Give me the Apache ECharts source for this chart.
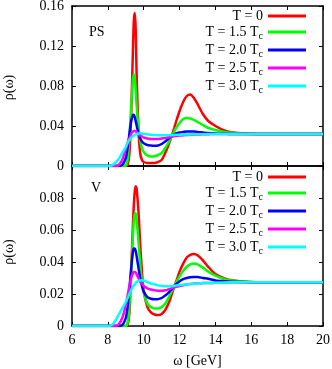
<!DOCTYPE html>
<html><head><meta charset="utf-8">
<script src="https://cdn.jsdelivr.net/npm/echarts@6/dist/echarts.min.js"></script>
<style>html,body{margin:0;padding:0;background:#fff}#c{width:332px;height:369px}</style>
</head><body><div id="c"></div>
<script>
// omega grid [GeV]
const omega = [6, 7, 8, 8.2, 8.4, 8.6, 8.8, 9.0, 9.1, 9.2, 9.3, 9.4, 9.45, 9.5, 9.55, 9.6, 9.7, 9.8, 9.9, 10.0,
  10.2, 10.4, 10.6, 10.8, 11.0, 11.2, 11.4, 11.6, 11.8, 12.0, 12.2, 12.4, 12.6, 12.8, 13.0, 13.3, 13.6, 14.0, 14.5, 15, 16, 17, 18, 19, 20];

// PS channel
const psT0  = [0, 0, 0, 0, 0, 0, 0, 0, 0.001, 0.012, 0.05, 0.118, 0.146, 0.153, 0.138, 0.095, 0.038, 0.013, 0.006, 0.004,
  0.003, 0.003, 0.003, 0.004, 0.006, 0.013, 0.022, 0.032, 0.044, 0.055, 0.064, 0.070, 0.0715, 0.068, 0.062, 0.052, 0.045, 0.040, 0.0355, 0.0335, 0.0322, 0.032, 0.032, 0.032, 0.032];
const psT15 = [0, 0, 0, 0, 0, 0, 0, 0.0005, 0.006, 0.028, 0.06, 0.087, 0.0915, 0.088, 0.077, 0.062, 0.04, 0.026, 0.018, 0.014,
  0.0105, 0.0095, 0.0097, 0.011, 0.013, 0.018, 0.024, 0.031, 0.038, 0.043, 0.047, 0.048, 0.0475, 0.046, 0.044, 0.041, 0.038, 0.036, 0.034, 0.033, 0.032, 0.032, 0.032, 0.032, 0.032];
const psT20 = [0, 0, 0, 0, 0, 0, 0.001, 0.008, 0.018, 0.032, 0.045, 0.051, 0.0512, 0.049, 0.045, 0.041, 0.033, 0.028, 0.0245, 0.0228,
  0.021, 0.0205, 0.0203, 0.0205, 0.022, 0.0245, 0.0275, 0.0305, 0.0325, 0.0335, 0.034, 0.0345, 0.0345, 0.0345, 0.034, 0.0335, 0.033, 0.0325, 0.0322, 0.032, 0.032, 0.032, 0.032, 0.032, 0.032];
const psT25 = [0, 0, 0, 0, 0, 0.001, 0.006, 0.017, 0.023, 0.028, 0.032, 0.0345, 0.035, 0.035, 0.0345, 0.034, 0.032, 0.0305, 0.0295, 0.0285,
  0.0275, 0.027, 0.027, 0.027, 0.0275, 0.028, 0.0287, 0.0295, 0.030, 0.0305, 0.0308, 0.031, 0.0312, 0.0314, 0.0315, 0.0317, 0.0318, 0.032, 0.032, 0.032, 0.032, 0.032, 0.032, 0.032, 0.032];
const psT30 = [0, 0, 0, 0.0005, 0.003, 0.007, 0.013, 0.019, 0.023, 0.026, 0.0285, 0.030, 0.0305, 0.031, 0.0315, 0.032, 0.0325, 0.0327, 0.0325, 0.0322,
  0.0317, 0.0312, 0.031, 0.0308, 0.0307, 0.0307, 0.0308, 0.031, 0.0312, 0.0313, 0.0314, 0.0315, 0.0316, 0.0317, 0.0317, 0.0318, 0.0319, 0.032, 0.032, 0.032, 0.032, 0.032, 0.032, 0.032, 0.032];

// V channel
const vT0  = [0, 0, 0, 0, 0, 0, 0, 0, 0.0005, 0.008, 0.034, 0.064, 0.076, 0.084, 0.0874, 0.086, 0.073, 0.052, 0.034, 0.022,
  0.012, 0.0085, 0.0072, 0.0068, 0.0075, 0.010, 0.0145, 0.021, 0.0275, 0.034, 0.039, 0.0428, 0.0445, 0.045, 0.0442, 0.041, 0.037, 0.0325, 0.0298, 0.0285, 0.0275, 0.0273, 0.0273, 0.0273, 0.0273];
const vT15 = [0, 0, 0, 0, 0, 0, 0, 0, 0.002, 0.012, 0.033, 0.057, 0.066, 0.0705, 0.0705, 0.067, 0.054, 0.039, 0.028, 0.021,
  0.014, 0.0118, 0.011, 0.011, 0.0118, 0.014, 0.018, 0.0225, 0.027, 0.031, 0.0345, 0.037, 0.0385, 0.039, 0.0385, 0.0365, 0.034, 0.0315, 0.0293, 0.0283, 0.0275, 0.0273, 0.0273, 0.0273, 0.0273];
const vT20 = [0, 0, 0, 0, 0, 0, 0.0005, 0.005, 0.012, 0.023, 0.036, 0.0465, 0.0485, 0.0485, 0.047, 0.044, 0.037, 0.030, 0.025, 0.0215,
  0.018, 0.017, 0.0167, 0.0168, 0.0175, 0.019, 0.021, 0.0235, 0.026, 0.028, 0.0293, 0.030, 0.0305, 0.0306, 0.0306, 0.030, 0.0295, 0.0285, 0.028, 0.0276, 0.0274, 0.0273, 0.0273, 0.0273, 0.0273];
const vT25 = [0, 0, 0, 0, 0, 0.001, 0.005, 0.013, 0.019, 0.025, 0.030, 0.0332, 0.0337, 0.0337, 0.0333, 0.0325, 0.030, 0.0278, 0.0262, 0.025,
  0.0235, 0.0228, 0.0223, 0.0221, 0.022, 0.0223, 0.023, 0.0238, 0.0245, 0.025, 0.0255, 0.026, 0.0263, 0.0265, 0.0267, 0.0268, 0.0269, 0.027, 0.0272, 0.0273, 0.0273, 0.0273, 0.0273, 0.0273, 0.0273];
const vT30 = [0, 0, 0, 0.0005, 0.003, 0.007, 0.011, 0.015, 0.0175, 0.020, 0.0225, 0.0245, 0.0255, 0.026, 0.027, 0.0275, 0.0282, 0.0285, 0.0286, 0.0284,
  0.0275, 0.0266, 0.026, 0.0254, 0.025, 0.0248, 0.0248, 0.025, 0.0253, 0.0256, 0.0258, 0.026, 0.0262, 0.0264, 0.0266, 0.0268, 0.0269, 0.027, 0.0272, 0.0273, 0.0273, 0.0273, 0.0273, 0.0273, 0.0273];

const names = ['T = 0', 'T = 1.5 Tc', 'T = 2.0 Tc', 'T = 2.5 Tc', 'T = 3.0 Tc'];
const colors = ['#ff0000', '#00ff00', '#0000ff', '#ff00ff', '#00ffff'];
const psSeries = [psT0, psT15, psT20, psT25, psT30];
const vSeries = [vT0, vT15, vT20, vT25, vT30];
const xTicks = [6, 8, 10, 12, 14, 16, 18, 20];
const psTicks = [0, 0.04, 0.08, 0.12, 0.16];
const vTicks = [0, 0.02, 0.04, 0.06, 0.08, 0.1];

const FONT = 'Liberation Serif';
const pair = arr => arr.map((v, i) => [omega[i], v]);

const chart = echarts.init(document.getElementById('c'), null, {renderer: 'canvas'});

function xAx(grid, pos, labels, extra) {
  return Object.assign({
    type: 'value', gridIndex: grid, position: pos, min: xTicks[0], max: xTicks[xTicks.length - 1],
    interval: xTicks[1] - xTicks[0],
    axisLine: {show: true, onZero: false, lineStyle: {color: '#000', width: 1.5}},
    axisTick: {show: true, inside: true, length: 4, lineStyle: {color: '#000', width: 1}},
    axisLabel: {show: labels, margin: 7, color: '#000', fontFamily: FONT, fontSize: 14},
    splitLine: {show: false}
  }, extra || {});
}
function yAx(grid, pos, ticks, labels, extra) {
  return Object.assign({
    type: 'value', gridIndex: grid, position: pos, min: ticks[0], max: ticks[ticks.length - 1],
    interval: ticks[1] - ticks[0],
    axisLine: {show: true, onZero: false, lineStyle: {color: '#000', width: 1.5}},
    axisTick: {show: true, inside: true, length: 4, lineStyle: {color: '#000', width: 1}},
    axisLabel: {show: labels, margin: 8, color: '#000', fontFamily: FONT, fontSize: 14},
    splitLine: {show: false}
  }, extra || {});
}

const legendFmt = n => n.endsWith('Tc') ? '{m|' + n.slice(0, -1) + '}{s|c}' : '{m|' + n + '}';
function legend(top) {
  return {
    top: top, right: 26, orient: 'vertical', align: 'right', padding: 0, itemGap: 0,
    itemWidth: 38, itemHeight: 3, icon: 'rect', data: names, selectedMode: false,
    formatter: legendFmt,
    textStyle: {color: '#000', fontFamily: FONT, fontSize: 14, lineHeight: 14,
      rich: {m: {fontFamily: FONT, fontSize: 14, lineHeight: 14, color: '#000'},
             s: {fontFamily: FONT, fontSize: 10, lineHeight: 14, color: '#000', padding: [8, 0, 0, 0]}}}
  };
}

const series = [];
psSeries.forEach((d, i) => series.push({
  name: names[i], type: 'line', xAxisIndex: 0, yAxisIndex: 0, data: pair(d), showSymbol: false,
  smooth: 0.25, color: colors[i], lineStyle: {width: 2.5, color: colors[i]}, animation: false
}));
vSeries.forEach((d, i) => series.push({
  name: names[i], type: 'line', xAxisIndex: 2, yAxisIndex: 2, data: pair(d), showSymbol: false,
  smooth: 0.25, color: colors[i], lineStyle: {width: 2.5, color: colors[i]}, animation: false
}));

chart.setOption({
  animation: false,
  backgroundColor: '#fff',
  grid: [
    {left: 72, right: 9, top: 6, height: 160, containLabel: false, outerBoundsMode: 'none'},
    {left: 72, right: 9, top: 166, height: 160, containLabel: false, outerBoundsMode: 'none'}
  ],
  xAxis: [
    xAx(0, 'bottom', false),
    xAx(0, 'top', false),
    xAx(1, 'bottom', true, {name: 'ω [GeV]', nameLocation: 'middle', nameGap: 28,
      nameTextStyle: {color: '#000', fontFamily: FONT, fontSize: 14}}),
    xAx(1, 'top', false)
  ],
  yAxis: [
    yAx(0, 'left', psTicks, true, {name: 'ρ(ω)', nameLocation: 'middle', nameGap: 56,
      nameTextStyle: {color: '#000', fontFamily: FONT, fontSize: 14, padding: [0, 3, 0, 0]}}),
    yAx(0, 'right', psTicks, false),
    yAx(1, 'left', vTicks, true, {name: 'ρ(ω)', nameLocation: 'middle', nameGap: 56,
      nameTextStyle: {color: '#000', fontFamily: FONT, fontSize: 14, padding: [0, 12, 0, 0]},
      axisLabel: {show: true, margin: 8, color: '#000', fontFamily: FONT, fontSize: 14, showMaxLabel: false}}),
    yAx(1, 'right', vTicks, false)
  ],
  legend: [legend(9), legend(170)],
  graphic: [
    {type: 'text', left: 89, top: 25, style: {text: 'PS', fill: '#000', font: '14px "Liberation Serif"'}},
    {type: 'text', left: 91, top: 181, style: {text: 'V', fill: '#000', font: '14px "Liberation Serif"'}}
  ],
  series: series
});
</script></body></html>
